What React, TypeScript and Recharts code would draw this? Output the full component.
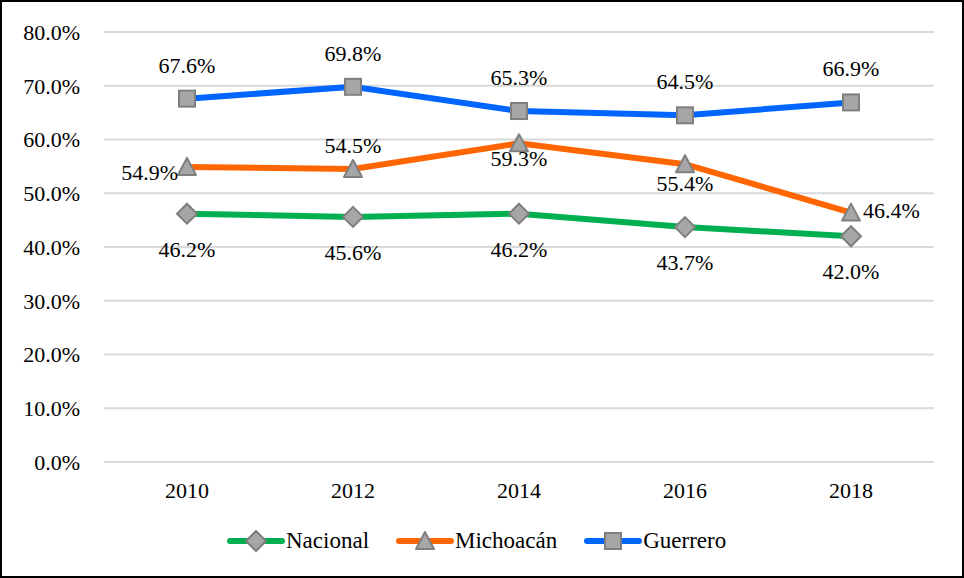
import React from 'react';
import { LineChart, Line, XAxis, YAxis, CartesianGrid } from 'recharts';

const years = ['2010', '2012', '2014', '2016', '2018'];
const nacional = [46.2, 45.6, 46.2, 43.7, 42.0];
const michoacan = [54.9, 54.5, 59.3, 55.4, 46.4];
const guerrero = [67.6, 69.8, 65.3, 64.5, 66.9];
const yTicks = [0, 10, 20, 30, 40, 50, 60, 70, 80];

// label placement per point: dx, dy (baseline), anchor
type Place = [number, number, 'start' | 'middle' | 'end'];
const nacionalPlace: Place[] = [[0, 43, 'middle'], [0, 43, 'middle'], [0, 43, 'middle'], [0, 43, 'middle'], [0, 43, 'middle']];
const michoacanPlace: Place[] = [[-9, 13, 'end'], [0, -16, 'middle'], [0, 23, 'middle'], [0, 27, 'middle'], [12, 5, 'start']];
const guerreroPlace: Place[] = [[0, -26, 'middle'], [0, -26, 'middle'], [0, -26, 'middle'], [0, -26, 'middle'], [0, -26, 'middle']];

const data = years.map((year, i) => ({
  year,
  nacional: nacional[i],
  michoacan: michoacan[i],
  guerrero: guerrero[i],
}));

const FONT = 'serif';
const MARK_FILL = '#A6A6A6';
const MARK_STROKE = '#7F7F7F';

const colors = {
  nacional: '#00B050',
  michoacan: '#FF6600',
  guerrero: '#0066FF',
};

type ShapeKind = 'diamond' | 'triangle' | 'square';

const Marker = ({ kind, cx, cy }: { kind: ShapeKind; cx: number; cy: number }) => {
  if (kind === 'diamond') {
    return (
      <polygon
        points={`${cx},${cy - 10} ${cx + 10},${cy} ${cx},${cy + 10} ${cx - 10},${cy}`}
        fill={MARK_FILL}
        stroke={MARK_STROKE}
        strokeWidth={2}
      />
    );
  }
  if (kind === 'triangle') {
    return (
      <polygon
        points={`${cx},${cy - 9} ${cx + 9},${cy + 8} ${cx - 9},${cy + 8}`}
        fill={MARK_FILL}
        stroke={MARK_STROKE}
        strokeWidth={2}
        strokeLinejoin="round"
      />
    );
  }
  return <rect x={cx - 8} y={cy - 8} width={16} height={16} fill={MARK_FILL} stroke={MARK_STROKE} strokeWidth={2} />;
};

const makeDot = (kind: ShapeKind) => (props: any) => (
  <Marker key={`${kind}-${props.index}`} kind={kind} cx={props.cx} cy={props.cy} />
);

const makeLabel = (place: Place[]) => (props: any) => {
  const p = place[props.index] || [0, 0, 'middle'];
  return (
    <text
      key={`lbl-${props.index}`}
      x={props.x + p[0]}
      y={props.y + p[1]}
      textAnchor={p[2]}
      fontFamily={FONT}
      fontSize={22}
      fill="#000"
    >
      {Number(props.value).toFixed(1)}%
    </text>
  );
};

const LegendItem = ({ color, kind, name }: { color: string; kind: ShapeKind; name: string }) => (
  <div style={{ display: 'flex', alignItems: 'center', marginRight: 27 }}>
    <svg width={58} height={24}>
      <line x1={3} y1={12} x2={55} y2={12} stroke={color} strokeWidth={6} strokeLinecap="round" />
      <Marker kind={kind} cx={29} cy={12} />
    </svg>
    <span style={{ fontFamily: FONT, fontSize: 23, color: '#000', marginLeft: 1 }}>{name}</span>
  </div>
);

export default function App() {
  return (
    <div style={{ position: 'absolute', left: 0, top: 0, width: 964, height: 578, background: '#fff', fontFamily: FONT }}>
      <LineChart width={964} height={578} data={data} margin={{ top: 32, right: 30, left: 0, bottom: 0 }}>
        <CartesianGrid vertical={false} stroke="#D9D9D9" strokeWidth={2} />
        <XAxis
          dataKey="year"
          axisLine={false}
          tickLine={false}
          height={116}
          tickMargin={14}
          padding={{ left: 83, right: 83 }}
          tick={{ fontFamily: FONT, fontSize: 22, fill: '#000' }}
        />
        <YAxis
          domain={[0, 80]}
          ticks={yTicks}
          width={104}
          axisLine={false}
          tickLine={false}
          tickMargin={18}
          tickFormatter={(v: number) => `${v.toFixed(1)}%`}
          tick={{ fontFamily: FONT, fontSize: 22, fill: '#000' }}
        />
        <Line
          dataKey="nacional"
          stroke={colors.nacional}
          strokeWidth={6}
          dot={makeDot('diamond')}
          label={makeLabel(nacionalPlace)}
          isAnimationActive={false}
        />
        <Line
          dataKey="michoacan"
          stroke={colors.michoacan}
          strokeWidth={6}
          dot={makeDot('triangle')}
          label={makeLabel(michoacanPlace)}
          isAnimationActive={false}
        />
        <Line
          dataKey="guerrero"
          stroke={colors.guerrero}
          strokeWidth={6}
          dot={makeDot('square')}
          label={makeLabel(guerreroPlace)}
          isAnimationActive={false}
        />
      </LineChart>
      <div
        style={{
          position: 'absolute',
          top: 528,
          left: 227,
          display: 'flex',
        }}
      >
        <LegendItem color={colors.nacional} kind="diamond" name="Nacional" />
        <LegendItem color={colors.michoacan} kind="triangle" name="Michoacán" />
        <LegendItem color={colors.guerrero} kind="square" name="Guerrero" />
      </div>
      <div
        style={{
          position: 'absolute',
          left: 0,
          top: 0,
          width: 964,
          height: 578,
          border: '2.5px solid #000',
          boxSizing: 'border-box',
          pointerEvents: 'none',
        }}
      />
    </div>
  );
}
